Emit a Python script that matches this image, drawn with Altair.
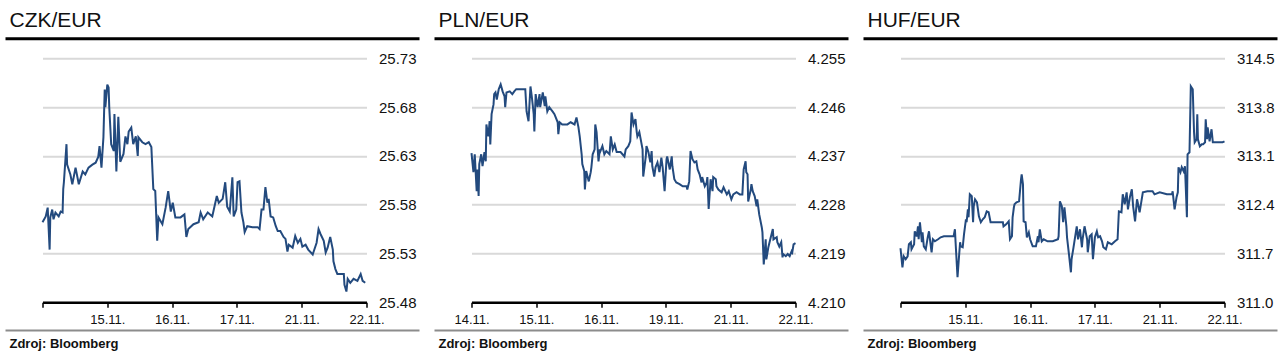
import json
import altair as alt
import pandas as pd

FONT = "Liberation Sans"
LINE_COLOR = "#234a7e"

# ---------------- data (x = trading-day position on the axis, 0..5) ----------------
czk_day = [0.00, 0.05, 0.08, 0.11, 0.12, 0.15, 0.17, 0.20, 0.25, 0.28, 0.31, 0.32, 0.33, 0.37, 0.38,
           0.43, 0.46, 0.51, 0.56, 0.62, 0.66, 0.71, 0.77, 0.82, 0.86, 0.88, 0.91, 0.94, 0.96, 0.97,
           1.00, 1.02, 1.03, 1.06, 1.10, 1.11, 1.14, 1.17, 1.20, 1.25, 1.28, 1.31, 1.33, 1.37, 1.40,
           1.44, 1.47, 1.48, 1.54, 1.59, 1.64, 1.68, 1.71, 1.74, 1.77, 1.79, 1.85, 1.90, 1.94, 1.98,
           2.01, 2.05, 2.13, 2.19, 2.22, 2.25, 2.33, 2.41, 2.44, 2.48, 2.55, 2.62, 2.69, 2.72, 2.78,
           2.82, 2.85, 2.89, 2.93, 2.95, 2.99, 3.01, 3.04, 3.07, 3.10, 3.12, 3.16, 3.24, 3.32, 3.35,
           3.38, 3.41, 3.44, 3.47, 3.49, 3.52, 3.56, 3.60, 3.63, 3.67, 3.72, 3.75, 3.78, 3.80, 3.86,
           3.90, 3.94, 3.98, 4.01, 4.06, 4.10, 4.17, 4.18, 4.23, 4.26, 4.29, 4.34, 4.37, 4.40, 4.44,
           4.48, 4.49, 4.52, 4.55, 4.60, 4.65, 4.66, 4.69, 4.71, 4.75, 4.80, 4.86, 4.91, 4.94, 4.98]
czk_rate = [25.562, 25.568, 25.577, 25.534, 25.567, 25.575, 25.565, 25.572, 25.568, 25.573, 25.572,
            25.596, 25.603, 25.642, 25.621, 25.611, 25.601, 25.618, 25.601, 25.614, 25.611, 25.618,
            25.621, 25.623, 25.629, 25.640, 25.618, 25.649, 25.698, 25.680, 25.703, 25.700, 25.680,
            25.642, 25.635, 25.673, 25.614, 25.670, 25.624, 25.632, 25.650, 25.642, 25.655, 25.659,
            25.642, 25.650, 25.630, 25.649, 25.644, 25.642, 25.644, 25.639, 25.596, 25.594, 25.543,
            25.567, 25.560, 25.577, 25.594, 25.573, 25.582, 25.567, 25.567, 25.570, 25.547, 25.555,
            25.560, 25.562, 25.572, 25.565, 25.572, 25.568, 25.589, 25.582, 25.586, 25.603, 25.578,
            25.573, 25.608, 25.568, 25.575, 25.603, 25.604, 25.572, 25.562, 25.552, 25.558, 25.557,
            25.557, 25.555, 25.575, 25.575, 25.598, 25.582, 25.586, 25.568, 25.567, 25.558, 25.553,
            25.553, 25.547, 25.545, 25.532, 25.539, 25.536, 25.548, 25.541, 25.545, 25.537, 25.539,
            25.534, 25.529, 25.531, 25.541, 25.555, 25.550, 25.543, 25.531, 25.536, 25.547, 25.534,
            25.522, 25.514, 25.509, 25.509, 25.509, 25.498, 25.491, 25.504, 25.500, 25.504, 25.502,
            25.509, 25.502, 25.500]

pln_day = [0.00, 0.03, 0.05, 0.08, 0.09, 0.11, 0.12, 0.15, 0.17, 0.20, 0.22, 0.23, 0.26, 0.28, 0.29,
           0.31, 0.34, 0.35, 0.37, 0.39, 0.42, 0.45, 0.48, 0.51, 0.52, 0.54, 0.59, 0.63, 0.66, 0.69,
           0.76, 0.83, 0.85, 0.88, 0.91, 0.93, 0.96, 0.97, 0.99, 1.02, 1.05, 1.06, 1.10, 1.13, 1.14,
           1.17, 1.20, 1.25, 1.28, 1.33, 1.34, 1.36, 1.40, 1.48, 1.53, 1.59, 1.62, 1.65, 1.67, 1.70,
           1.71, 1.74, 1.75, 1.77, 1.81, 1.84, 1.85, 1.87, 1.90, 1.91, 1.93, 1.96, 1.98, 1.99, 2.02,
           2.05, 2.08, 2.13, 2.15, 2.18, 2.21, 2.24, 2.30, 2.33, 2.36, 2.38, 2.42, 2.45, 2.47, 2.50,
           2.53, 2.55, 2.56, 2.59, 2.62, 2.64, 2.65, 2.69, 2.70, 2.73, 2.76, 2.78, 2.79, 2.82, 2.84,
           2.87, 2.90, 2.93, 2.95, 2.98, 3.01, 3.02, 3.06, 3.09, 3.10, 3.13, 3.16, 3.21, 3.26, 3.32,
           3.33, 3.36, 3.38, 3.41, 3.44, 3.47, 3.49, 3.52, 3.55, 3.56, 3.60, 3.63, 3.64, 3.66, 3.69,
           3.72, 3.73, 3.77, 3.78, 3.81, 3.86, 3.89, 3.94, 3.97, 4.01, 4.04, 4.09, 4.14, 4.18, 4.20,
           4.23, 4.24, 4.26, 4.27, 4.31, 4.32, 4.34, 4.37, 4.40, 4.41, 4.44, 4.48, 4.49, 4.51, 4.54,
           4.55, 4.58, 4.61, 4.65, 4.66, 4.71, 4.72, 4.75, 4.78, 4.80, 4.81, 4.85, 4.88, 4.91, 4.94,
           4.95, 4.97, 5.00]
pln_rate = [4.2375, 4.2340, 4.2373, 4.2305, 4.2345, 4.2296, 4.2355, 4.2373, 4.2351, 4.2377, 4.2360,
            4.2428, 4.2406, 4.2434, 4.2391, 4.2447, 4.2465, 4.2484, 4.2487, 4.2474, 4.2493, 4.2502,
            4.2489, 4.2480, 4.2460, 4.2487, 4.2489, 4.2484, 4.2489, 4.2493, 4.2493, 4.2493, 4.2452,
            4.2434, 4.2498, 4.2480, 4.2447, 4.2415, 4.2484, 4.2460, 4.2484, 4.2460, 4.2487, 4.2462,
            4.2480, 4.2452, 4.2460, 4.2452, 4.2447, 4.2432, 4.2410, 4.2432, 4.2428, 4.2428, 4.2432,
            4.2428, 4.2441, 4.2423, 4.2406, 4.2373, 4.2355, 4.2342, 4.2308, 4.2342, 4.2323, 4.2340,
            4.2349, 4.2373, 4.2382, 4.2428, 4.2414, 4.2360, 4.2382, 4.2379, 4.2388, 4.2373, 4.2379,
            4.2373, 4.2406, 4.2382, 4.2391, 4.2377, 4.2377, 4.2373, 4.2369, 4.2382, 4.2388, 4.2397,
            4.2450, 4.2428, 4.2438, 4.2414, 4.2406, 4.2414, 4.2395, 4.2382, 4.2332, 4.2369, 4.2388,
            4.2377, 4.2358, 4.2379, 4.2351, 4.2332, 4.2349, 4.2358, 4.2340, 4.2367, 4.2349, 4.2305,
            4.2364, 4.2369, 4.2345, 4.2369, 4.2351, 4.2327, 4.2321, 4.2318, 4.2314, 4.2314, 4.2308,
            4.2323, 4.2379, 4.2364, 4.2358, 4.2360, 4.2345, 4.2336, 4.2321, 4.2331, 4.2314, 4.2321,
            4.2331, 4.2272, 4.2327, 4.2305, 4.2331, 4.2327, 4.2314, 4.2308, 4.2303, 4.2312, 4.2299,
            4.2305, 4.2290, 4.2299, 4.2303, 4.2299, 4.2299, 4.2345, 4.2360, 4.2340, 4.2336, 4.2286,
            4.2308, 4.2318, 4.2305, 4.2296, 4.2277, 4.2290, 4.2262, 4.2238, 4.2229, 4.2170, 4.2216,
            4.2179, 4.2201, 4.2216, 4.2235, 4.2216, 4.2220, 4.2211, 4.2203, 4.2211, 4.2183, 4.2189,
            4.2185, 4.2189, 4.2185, 4.2194, 4.2192, 4.2207, 4.2209]

huf_day = [0.00, 0.03, 0.05, 0.08, 0.11, 0.13, 0.16, 0.17, 0.21, 0.22, 0.25, 0.27, 0.28, 0.30, 0.33,
           0.34, 0.36, 0.39, 0.42, 0.44, 0.47, 0.48, 0.50, 0.53, 0.58, 0.62, 0.67, 0.73, 0.78, 0.82,
           0.84, 0.85, 0.88, 0.90, 0.92, 0.93, 0.96, 0.98, 1.01, 1.02, 1.04, 1.05, 1.07, 1.10, 1.12,
           1.13, 1.15, 1.18, 1.21, 1.24, 1.27, 1.30, 1.33, 1.36, 1.39, 1.44, 1.52, 1.58, 1.59, 1.63,
           1.67, 1.69, 1.72, 1.73, 1.75, 1.76, 1.79, 1.83, 1.86, 1.87, 1.89, 1.90, 1.93, 1.95, 1.98,
           2.00, 2.04, 2.09, 2.12, 2.13, 2.15, 2.18, 2.21, 2.27, 2.35, 2.43, 2.44, 2.46, 2.49, 2.51,
           2.53, 2.56, 2.57, 2.60, 2.63, 2.64, 2.67, 2.72, 2.74, 2.77, 2.80, 2.81, 2.84, 2.88, 2.89,
           2.92, 2.95, 2.97, 3.00, 3.03, 3.05, 3.08, 3.11, 3.13, 3.17, 3.20, 3.26, 3.31, 3.35, 3.37,
           3.41, 3.43, 3.46, 3.49, 3.51, 3.54, 3.57, 3.59, 3.62, 3.65, 3.66, 3.69, 3.74, 3.81, 3.89,
           3.92, 4.00, 4.11, 4.19, 4.20, 4.23, 4.26, 4.28, 4.29, 4.32, 4.34, 4.37, 4.39, 4.42, 4.43,
           4.46, 4.48, 4.51, 4.53, 4.54, 4.57, 4.58, 4.59, 4.62, 4.65, 4.67, 4.70, 4.71, 4.73, 4.74,
           4.77, 4.80, 4.82, 4.88, 4.93, 4.97, 5.00]
huf_rate = [311.775, 311.502, 311.660, 311.617, 311.660, 311.832, 311.861, 311.760, 311.832, 312.019,
            311.947, 312.090, 311.904, 312.148, 311.861, 312.004, 311.803, 311.760, 311.932, 312.019,
            311.789, 311.717, 311.904, 311.875, 311.904, 311.932, 311.947, 311.947, 311.947, 311.947,
            312.047, 311.861, 311.359, 311.617, 311.861, 311.803, 311.789, 311.975, 312.191, 312.148,
            312.334, 312.219, 312.549, 312.521, 312.148, 312.377, 312.477, 312.434, 312.234, 312.148,
            312.191, 312.219, 312.305, 312.291, 312.148, 312.148, 312.148, 312.148, 312.090, 312.119,
            312.162, 311.904, 311.947, 312.219, 312.363, 312.406, 312.434, 312.449, 312.764, 312.836,
            312.693, 312.162, 312.148, 311.932, 312.004, 311.904, 311.803, 311.803, 311.947, 311.861,
            312.047, 311.875, 311.904, 311.875, 311.875, 311.904, 311.947, 312.449, 312.377, 312.148,
            312.363, 312.090, 311.932, 311.689, 311.430, 311.617, 311.789, 312.090, 311.904, 312.047,
            311.789, 311.904, 312.090, 311.904, 311.717, 311.947, 311.975, 311.617, 311.932, 312.019,
            311.932, 311.947, 311.875, 311.789, 311.760, 311.861, 311.832, 311.875, 311.904, 312.305,
            312.291, 312.549, 312.406, 312.578, 312.334, 312.506, 312.621, 312.377, 312.162, 312.477,
            312.434, 312.291, 312.578, 312.592, 312.592, 312.549, 312.578, 312.549, 312.549, 312.592,
            312.334, 312.506, 312.578, 312.937, 312.865, 312.937, 312.879, 312.951, 312.219, 313.123,
            313.152, 314.098, 314.055, 313.439, 313.295, 313.338, 313.697, 313.338, 313.238, 313.266,
            313.266, 313.295, 313.625, 313.338, 313.510, 313.309, 313.482, 313.295, 313.295, 313.295,
            313.295, 313.309]

czk_ticks = [25.48, 25.53, 25.58, 25.63, 25.68, 25.73]
pln_ticks = [4.210, 4.219, 4.228, 4.237, 4.246, 4.255]
huf_ticks = [311.0, 311.7, 312.4, 313.1, 313.8, 314.5]

czk_xlabels = ["", "15.11.", "16.11.", "17.11.", "21.11.", "22.11."]
pln_xlabels = ["14.11.", "15.11.", "16.11.", "19.11.", "21.11.", "22.11."]
huf_xlabels = ["", "15.11.", "16.11.", "17.11.", "21.11.", "22.11."]

titles = ["CZK/EUR", "PLN/EUR", "HUF/EUR"]
source = "Zdroj: Bloomberg"

W, H = 324, 244


def panel(title, days, rates, yticks, yfmt, xlabels):
    df = pd.DataFrame({"day": days, "rate": rates})
    label_expr = json.dumps(xlabels) + "[datum.value]"
    line = alt.Chart(df).mark_line(color=LINE_COLOR, strokeWidth=2).encode(
        x=alt.X("day:Q",
                scale=alt.Scale(domain=[0, 5], nice=False, zero=False),
                axis=alt.Axis(values=[0, 1, 2, 3, 4, 5], labelExpr=label_expr, title=None,
                              grid=False, domainColor="#000000", domainWidth=2.5,
                              tickColor="#000000", tickSize=5, tickWidth=1.5,
                              labelFontSize=13, labelPadding=6, labelFont=FONT,
                              labelColor="#111111", labelFlush=False, labelOverlap=False)),
        y=alt.Y("rate:Q",
                scale=alt.Scale(domain=[yticks[0], yticks[-1]], nice=False, zero=False),
                axis=alt.Axis(orient="right", values=yticks, format=yfmt, title=None,
                              domain=False, ticks=False, grid=True, gridColor="#d9d9d9",
                              gridWidth=2, labelPadding=12, labelFontSize=15, labelFont=FONT,
                              labelColor="#111111", labelFlush=False, labelOverlap=False)),
    )
    one = alt.Data(values=[{}])
    title_txt = alt.Chart(one).mark_text(
        text=title, align="left", baseline="alphabetic", fontSize=21, font=FONT, color="#111111"
    ).encode(x=alt.value(-33), y=alt.value(-31.7))
    top_rule = alt.Chart(one).mark_rule(color="#000000", strokeWidth=3).encode(
        x=alt.value(-37), x2=alt.value(377), y=alt.value(-19.5))
    bottom_rule = alt.Chart(one).mark_rule(color="#8c8c8c", strokeWidth=2).encode(
        x=alt.value(-37), x2=alt.value(377), y=alt.value(272.2))
    src = alt.Chart(one).mark_text(
        text=source, align="left", baseline="alphabetic", fontSize=13, fontWeight="bold",
        font=FONT, color="#111111"
    ).encode(x=alt.value(-33), y=alt.value(290.0))
    return alt.layer(line, title_txt, top_rule, bottom_rule, src).properties(width=W, height=H)


chart = alt.hconcat(
    panel(titles[0], czk_day, czk_rate, czk_ticks, ".2f", czk_xlabels),
    panel(titles[1], pln_day, pln_rate, pln_ticks, ".3f", pln_xlabels),
    panel(titles[2], huf_day, huf_rate, huf_ticks, ".1f", huf_xlabels),
    spacing=105,
    bounds="flush",
).properties(
    padding={"left": 3.5, "top": 9.3, "right": 0, "bottom": 0},
    background="white",
).configure_view(stroke=None)

chart.save("out.html", embed_options={"renderer": "svg", "actions": False})
